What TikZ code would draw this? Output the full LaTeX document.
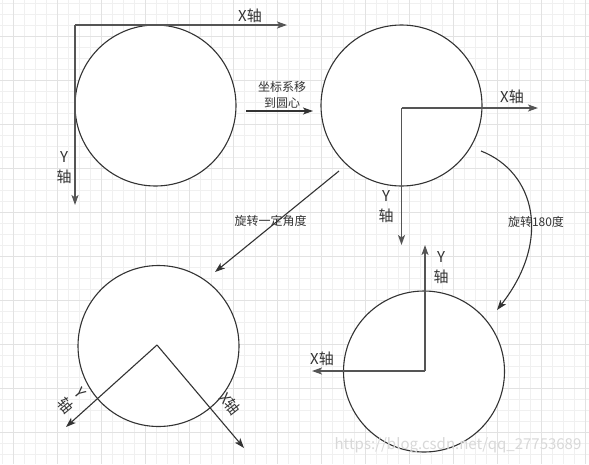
\documentclass[tikz,border=0pt]{standalone}
\usepackage{fontspec}
\setmainfont{Noto Sans CJK SC}
\usepackage{xcolor}
\usepackage{tikz}
\usetikzlibrary{arrows.meta}
\definecolor{ink}{HTML}{333333}
\definecolor{axisc}{HTML}{555555}
\definecolor{gridmin}{HTML}{F0F0F0}
\definecolor{gridmaj}{HTML}{E2E2E2}
\definecolor{mark}{HTML}{D8D8D8}
\tikzset{
  circ/.style={draw=ink, circle, minimum size=161pt, inner sep=0pt, line width=1.1pt, fill=white},
  axis/.style={draw=axisc, line width=1.8pt, -{Stealth[length=10pt,width=7pt,inset=2.5pt]}},
  conn/.style={draw=ink, line width=1.1pt, -{Stealth[length=10pt,width=7pt,inset=2.5pt]}},
  lab/.style={text=ink, font=\fontsize{15}{20}\selectfont, align=center, inner sep=0pt},
  labs/.style={text=ink, font=\fontsize{12}{16}\selectfont, align=center, inner sep=0pt},
  gmin/.style={draw=gridmin, line width=0.8pt},
  gmaj/.style={draw=gridmaj, line width=0.9pt}
}

\begin{document}
\begin{tikzpicture}[x=1pt, y=-1pt]
  \useasboundingbox (0,0) rectangle (589,464);
  \fill[white] (0,0) rectangle (589,464);

  % grid
  \foreach \gx in {0,...,53} \draw[gmin] ({2.3+11*\gx},0) -- ++(0,464);
  \foreach \gy in {0,...,41} \draw[gmin] (0,{3.7+11*\gy}) -- ++(589,0);
  \foreach \gx in {0,...,13} \draw[gmaj] ({13.3+44*\gx},0) -- ++(0,464);
  \foreach \gy in {0,...,9} \draw[gmaj] (0,{36.7+44*\gy}) -- ++(589,0);

  % circles
  \node[circ] (orig) at (155.5,105.5) {};
  \node[circ] (moved) at (401.5,105.5) {};
  \node[circ] (turned) at (158.5,346) {};
  \node[circ] (flipped) at (424,371.5) {};

  % axes at the corner
  \coordinate (o1) at (75,25);
  \coordinate (x1) at (287,25);
  \coordinate (y1) at (75,205);
  \draw[axis] (o1) -- (x1);
  \draw[axis] (o1) -- (y1);
  \node[lab] (x1lab) at (250,16) {X轴};
  \node[lab] (y1lab) at (64,168) {Y\\轴};

  % axes at the centre
  \coordinate (o2) at (401.5,108);
  \coordinate (x2) at (538,108);
  \coordinate (y2) at (401.5,245);
  \draw[axis] (o2) -- (x2);
  \draw[axis] (o2) -- (y2);
  \node[lab] (x2lab) at (512,97) {X轴};
  \node[lab] (y2lab) at (386,207) {Y\\轴};

  % rotated axes
  \coordinate (o3) at (157,345);
  \coordinate (x3) at (244,448);
  \coordinate (y3) at (66,427);
  \draw[conn] (o3) -- (x3);
  \draw[conn] (o3) -- (y3);
  \node[lab, rotate=-52] (x3lab) at (230,404) {X轴};
  \node[lab, rotate=-50] (y3lab) at (72.5,400) {Y\\轴};

  % axes turned by 180
  \coordinate (o4) at (425,371);
  \coordinate (x4) at (312,371);
  \coordinate (y4) at (425,245);
  \draw[axis] (o4) -- (x4);
  \draw[axis] (o4) -- (y4);
  \node[lab] (x4lab) at (322,359) {X轴};
  \node[lab] (y4lab) at (441,268) {Y\\轴};

  % steps
  \coordinate (s1) at (246,111);
  \coordinate (e1) at (313,111);
  \draw[conn] (s1) -- (e1);
  \node[labs] (step1) at (282,95) {坐标系移\\到圆心};

  \coordinate (s2) at (339,171);
  \coordinate (e2) at (215,272);
  \draw[conn] (s2) -- (e2);
  \node[labs] (step2) at (270.5,220.5) {旋转一定角度};

  \coordinate (s3) at (481,151);
  \coordinate (e3) at (497,310);
  \draw[conn] (s3) .. controls (535,172) and (552,240) .. (e3);
  \node[labs] (step3) at (536,222) {旋转180度};

  \node[text=mark, font=\fontsize{15}{18}\selectfont, inner sep=0pt] (wm) at (458,445) {https://blog.csdn.net/qq\_27753689};
\end{tikzpicture}
\end{document}
